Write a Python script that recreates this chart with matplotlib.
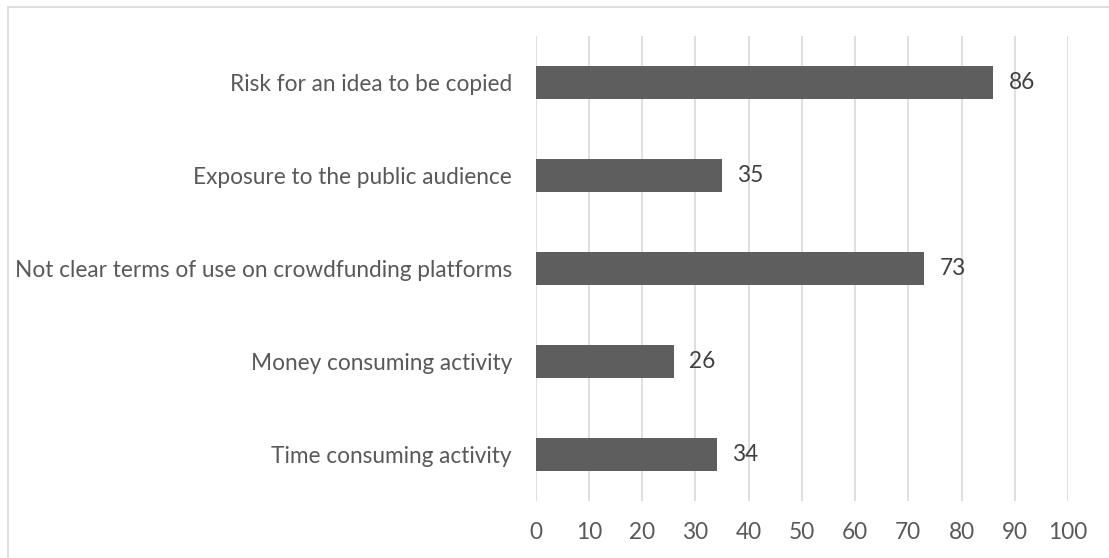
import matplotlib
matplotlib.use("Agg")
import matplotlib.pyplot as plt
from matplotlib.patches import Rectangle

categories = ["Time consuming activity",
              "Money consuming activity",
              "Not clear terms of use on crowdfunding platforms",
              "Exposure to the public audience",
              "Risk for an idea to be copied"]
values = [34, 26, 73, 35, 86]
xticks = [0, 10, 20, 30, 40, 50, 60, 70, 80, 90, 100]

plt.rcParams['font.family'] = ['Lato', 'DejaVu Sans']
W, H = 1109, 558
fig = plt.figure(figsize=(W/100, H/100), dpi=100)
ax = fig.add_axes([535.5/W, 1-500.7/H, (1068-535.5)/W, (500.7-36)/H])

text_c = '#595959'
fs = 16.3
bars = ax.barh(range(len(categories)), values, height=0.356, color='#5e5e5e', zorder=3)
ax.set_ylim(-0.5, len(categories)-0.5)
ax.set_xlim(0, 100)
ax.set_xticks(xticks)
ax.set_xticklabels([str(t) for t in xticks])
ax.set_yticks(range(len(categories)))
ax.set_yticklabels(categories)
ax.tick_params(axis='both', length=0, colors=text_c, labelsize=fs)
ax.tick_params(axis='x', pad=15)
ax.tick_params(axis='y', pad=17)
for s in ax.spines.values():
    s.set_visible(False)
ax.grid(axis='x', color='#d9d9d9', lw=1.2, zorder=0)
ax.set_axisbelow(True)
for i, v in enumerate(values):
    ax.annotate(str(v), (v, i), xytext=(11, 0), textcoords='offset points',
                va='center', ha='left', color='#404040', fontsize=fs)

fig.patches.append(Rectangle((8/W, -0.1), 1.2, 1.1 - 7/H, transform=fig.transFigure,
                             fill=False, edgecolor='#d9d9d9', lw=1.2))
fig.savefig('out.png', dpi=100)
